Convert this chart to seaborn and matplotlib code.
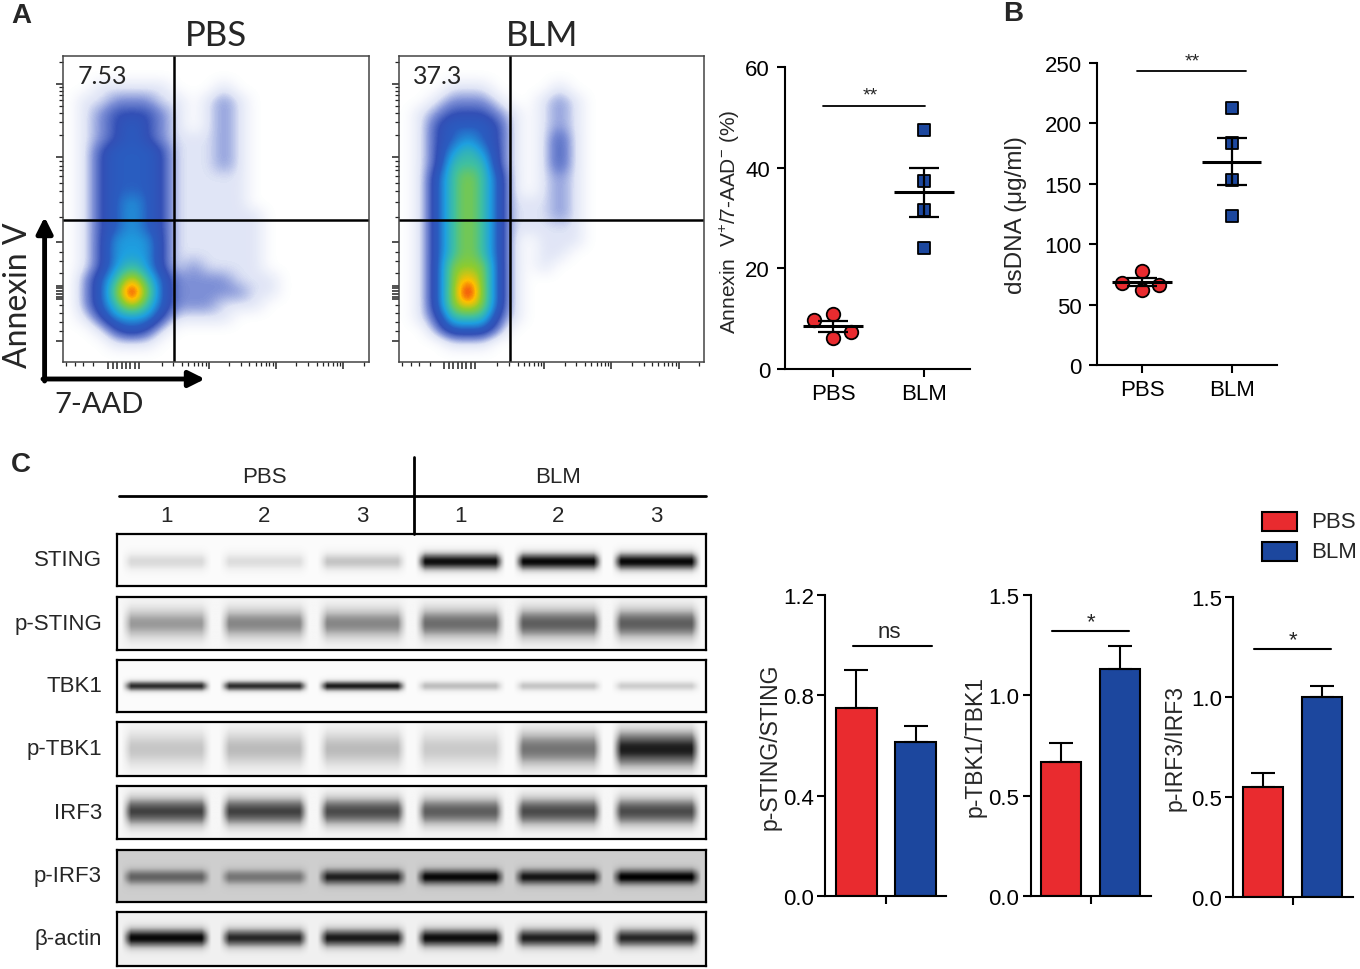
import numpy as np
import pandas as pd
import matplotlib
matplotlib.use("Agg")
import matplotlib.pyplot as plt
import seaborn as sns
from matplotlib.colors import LinearSegmentedColormap
from matplotlib.patches import Rectangle

sns.set_theme(style="ticks")
plt.rcParams['font.family'] = ['Liberation Sans', 'DejaVu Sans']
plt.rcParams['mathtext.default'] = 'regular'

W, H = 1360, 970
RED = "#E92B2F"
BLUE = "#1C479E"
groups = ["PBS", "BLM"]

# ---------------- data ----------------
# A: flow cytometry, coarse density (0 = empty, 9 = peak)
flow_labels = ["7.53", "37.3"]
flow_pbs = [
    "00000000" "000000000000",
    "00000000" "000000000000",
    "00111110" "001000000000",
    "01122211" "012100000000",
    "01233321" "012100000000",
    "01234321" "012100000000",
    "01234321" "112100000000",
    "01344431" "112100000000",
    "01344431" "112100000000",
    "01344431" "111100000000",
    "01344431" "111100000000",
    "01345431" "111100000000",
    "01345431" "111110000000",
    "01345431" "111110000000",
    "01355531" "111110000000",
    "01355531" "111110000000",
    "01356531" "211110000000",
    "02468642" "222111000000",
    "02479742" "222211000000",
    "02468642" "221110000000",
    "01355531" "111000000000",
    "00134310" "000000000000",
    "00011100" "000000000000",
    "00000000" "000000000000",
]
flow_blm = [
    "00000000" "000000000000",
    "00000000" "000000000000",
    "00011100" "001000000000",
    "00122210" "012100000000",
    "01233321" "012100000000",
    "01344431" "012100000000",
    "01345431" "013100000000",
    "01356531" "013100000000",
    "01366631" "013100000000",
    "01467641" "012100000000",
    "01467641" "012100000000",
    "01467641" "112100000000",
    "01467641" "112100000000",
    "01467641" "111100000000",
    "01467641" "011100000000",
    "01467641" "011000000000",
    "01477741" "010000000000",
    "01478741" "000000000000",
    "01479741" "000000000000",
    "01478741" "000000000000",
    "01366631" "000000000000",
    "00244420" "000000000000",
    "00011100" "000000000000",
    "00000000" "000000000000",
]
gate_x, gate_y = 0.364, 0.465

# A: Annexin V+/7-AAD- (%)
annexin_pbs = [9.75, 10.9, 7.4, 6.1]
annexin_blm = [47.5, 37.3, 31.7, 24.0]
annexin_pbs_jitter = [-0.21, 0.0, 0.2, 0.0]

# B: dsDNA (ug/ml)
dsdna_pbs = [77.5, 67.6, 62.4, 66.2]
dsdna_blm = [212.7, 184.0, 153.4, 123.6]
dsdna_pbs_jitter = [0.0, -0.22, 0.0, 0.19]

# C: western blot band intensities (0 = none, 1 = saturated), lanes PBS1-3, BLM1-3
blot_proteins = ["STING", "p-STING", "TBK1", "p-TBK1", "IRF3", "p-IRF3", "β-actin"]
lane_numbers = ["1", "2", "3", "1", "2", "3"]
sting_bands = [0.22, 0.2, 0.32, 0.95, 0.97, 0.97]
p_sting_bands = [0.45, 0.52, 0.52, 0.62, 0.68, 0.68]
tbk1_bands = [0.85, 0.85, 0.9, 0.35, 0.32, 0.28]
p_tbk1_bands = [0.3, 0.35, 0.35, 0.28, 0.6, 0.9]
irf3_bands = [0.78, 0.78, 0.75, 0.68, 0.75, 0.75]
p_irf3_bands = [0.55, 0.45, 0.85, 0.97, 0.9, 1.0]
actin_bands = [0.97, 0.85, 0.9, 0.95, 0.88, 0.85]

# C: quantification
ratio_labels = ["p-STING/STING", "p-TBK1/TBK1", "p-IRF3/IRF3"]
ratio_pbs = [0.749, 0.670, 0.549]
ratio_blm = [0.613, 1.132, 0.998]
ratio_pbs_top = [0.901, 0.762, 0.620]
ratio_blm_top = [0.680, 1.244, 1.056]
ratio_sig = ["ns", "*", "*"]
ratio_sig_y = [0.998, 1.319, 1.239]

# ---------------- figure ----------------
fig = plt.figure(figsize=(W / 100, H / 100), dpi=100)


def add_ax(l, t, r, b):
    return fig.add_axes([l / W, 1 - b / H, (r - l) / W, (b - t) / H])


def style_prism(ax):
    sns.despine(ax=ax)
    for s in ["left", "bottom"]:
        ax.spines[s].set_linewidth(1.5)
        ax.spines[s].set_color("black")
    ax.tick_params(direction="out", length=6, width=1.5, labelsize=16,
                   colors="black", pad=3)


def log_minor(a, b):
    return [a + (b - a) * np.log10(k) for k in range(2, 10)]


flow_cmap = LinearSegmentedColormap.from_list("flow", [
    (0.0, "#ffffff"), (0.11, "#e0e5f6"), (0.22, "#7d8fd6"), (0.33, "#3350b6"),
    (0.44, "#2a5cc0"), (0.56, "#1ea0e0"), (0.67, "#40c0a0"), (0.78, "#8ccc30"),
    (0.86, "#ffc000"), (0.92, "#f04010"), (1.0, "#e00000")])

x_major = list(np.linspace(0.15, 0.25, 8)) + [0.477, 0.697, 0.917]
x_minor = ([0.011, 0.041, 0.068, 0.101] + log_minor(0.257, 0.477) +
           log_minor(0.477, 0.697) + log_minor(0.697, 0.917) +
           [v for v in log_minor(0.917, 1.137) if v < 1])
y_major = list(np.linspace(0.205, 0.25, 6)) + [0.069, 0.391, 0.669, 0.909]
y_minor = ([0.1, 0.13, 0.16, 0.185, 0.29, 0.33, 0.36] + log_minor(0.391, 0.669) +
           log_minor(0.669, 0.909) + [v for v in log_minor(0.909, 1.149) if v < 1])

flow_boxes = [(62.5, 57, 368.8, 363), (398.7, 57, 704, 363)]
for grid, label, box in zip([flow_pbs, flow_blm], flow_labels, flow_boxes):
    ax = add_ax(*box)
    dens = np.array([[int(c) for c in row] for row in grid]) / 9
    ax.imshow(dens, cmap=flow_cmap, vmin=0, vmax=1, extent=[0, 1, 0, 1],
              origin="upper", interpolation="bicubic", aspect="auto")
    ax.axvline(gate_x, color="black", lw=1.8)
    ax.axhline(gate_y, color="black", lw=1.8)
    ax.set_xlim(0, 1)
    ax.set_ylim(0, 1)
    ax.set_xticks(x_major)
    ax.set_xticks(x_minor, minor=True)
    ax.set_yticks(y_major)
    ax.set_yticks(y_minor, minor=True)
    ax.tick_params(which="major", direction="out", length=5, width=1.1,
                   labelbottom=False, labelleft=False, color="#222222")
    ax.tick_params(which="minor", direction="out", length=3, width=0.9, color="#222222")
    for s in ax.spines.values():
        s.set_color("#444444")
        s.set_linewidth(1.1)
    ax.text(0.048, 0.935, label, transform=ax.transAxes, fontsize=18,
            family=["Lato", "DejaVu Sans"], ha="left", va="center")

# A: Annexin scatter
ax = add_ax(785.3, 68.3, 970, 370)
sns.scatterplot(x=np.array(annexin_pbs_jitter), y=annexin_pbs, marker="o", s=95,
                color=RED, edgecolor="black", linewidth=1.3, ax=ax, zorder=3)
sns.scatterplot(x=np.ones(len(annexin_blm)), y=annexin_blm, marker="s", s=80,
                color=BLUE, edgecolor="black", linewidth=1.3, ax=ax, zorder=3)
for i, vals in enumerate([annexin_pbs, annexin_blm]):
    m = np.mean(vals)
    se = np.std(vals, ddof=1) / np.sqrt(len(vals))
    ax.hlines(m, i - 0.33, i + 0.33, color="black", lw=2.2, zorder=4)
    ax.errorbar(i, m, yerr=se, fmt="none", ecolor="black", elinewidth=1.6,
                capsize=10.5, capthick=1.6, zorder=4)
ax.plot([-0.11, 1.015], [52.4, 52.4], color="black", lw=1.3)
ax.text(0.41, 52.9, "**", ha="center", va="bottom", fontsize=14)
ax.set_xlim(-0.524, 1.505)
ax.set_ylim(0, 60)
ax.set_yticks([0, 20, 40, 60])
ax.set_xticks([0, 1])
ax.set_xticklabels(groups)
style_prism(ax)
ax.tick_params(axis="y", pad=5)
ax.tick_params(axis="x", pad=4)
ax.set_ylabel("Annexin  V$^{+}$/7-AAD$^{-}$ (%)", fontsize=15)
ax.yaxis.set_label_coords(-0.232, 0.49)

# B: dsDNA scatter
ax = add_ax(1096.8, 64, 1277, 366)
sns.scatterplot(x=np.array(dsdna_pbs_jitter), y=dsdna_pbs, marker="o", s=95,
                color=RED, edgecolor="black", linewidth=1.3, ax=ax, zorder=3)
sns.scatterplot(x=np.ones(len(dsdna_blm)), y=dsdna_blm, marker="s", s=80,
                color=BLUE, edgecolor="black", linewidth=1.3, ax=ax, zorder=3)
for i, vals in enumerate([dsdna_pbs, dsdna_blm]):
    m = np.mean(vals)
    se = np.std(vals, ddof=1) / np.sqrt(len(vals))
    ax.hlines(m, i - 0.33, i + 0.33, color="black", lw=2.2, zorder=4)
    ax.errorbar(i, m, yerr=se, fmt="none", ecolor="black", elinewidth=1.6,
                capsize=10.5, capthick=1.6, zorder=4)
ax.plot([-0.06, 1.16], [243.4, 243.4], color="black", lw=1.3, clip_on=False)
ax.text(0.56, 244.5, "**", ha="center", va="bottom", fontsize=14, clip_on=False)
ax.set_xlim(-0.504, 1.507)
ax.set_ylim(0, 250)
ax.set_yticks([0, 50, 100, 150, 200, 250])
ax.set_xticks([0, 1])
ax.set_xticklabels(groups)
style_prism(ax)
ax.tick_params(axis="y", pad=5)
ax.tick_params(axis="x", pad=4)
ax.set_ylabel("dsDNA (μg/ml)", fontsize=17.5)
ax.yaxis.set_label_coords(-0.39, 0.5)

# C: western blots
blot_l, blot_r = 117, 705.5
blot_rows_px = [(535, 587), (598, 651), (661, 713), (723, 777),
                (787, 840), (851, 903), (913, 967)]
blot_bands = [sting_bands, p_sting_bands, tbk1_bands, p_tbk1_bands,
              irf3_bands, p_irf3_bands, actin_bands]
# band centre (fraction of strip height), band thickness, membrane background
band_style = [(0.47, 0.12, 0.03), (0.49, 0.2, 0.07), (0.5, 0.07, 0.03),
              (0.5, 0.24, 0.05), (0.52, 0.19, 0.07), (0.48, 0.1, 0.3),
              (0.52, 0.12, 0.12)]
xs = np.linspace(0, 6, 600)
ys = np.linspace(0, 1, 80)
lane_idx = np.clip(np.floor(xs).astype(int), 0, 5)
hprof = np.clip((0.46 - np.abs(xs - (lane_idx + 0.5))) / 0.1, 0, 1)
for bands, (top, bot), (yc, sig, bg) in zip(blot_bands, blot_rows_px, band_style):
    ax = add_ax(blot_l, top, blot_r, bot)
    inten = np.array(bands)[lane_idx] * hprof
    vprof = np.exp(-0.5 * ((ys - yc) / sig) ** 2)
    img = bg + (1 - bg) * np.outer(vprof, inten)
    ax.imshow(img, cmap="Greys", vmin=0, vmax=1, origin="lower",
              extent=[0, 6, 0, 1], aspect="auto", interpolation="bilinear")
    ax.set_xticks([])
    ax.set_yticks([])
    for s in ax.spines.values():
        s.set_color("black")
        s.set_linewidth(1.6)

# C: quantification bars
bar_boxes = [(825, 596, 946, 897.3), (1030.5, 596, 1151, 897.3), (1233, 597.7, 1353, 898.3)]
bar_tick_px = [886, 1090.6, 1292.6]
bar_ylims = [1.2, 1.5, 1.5]
bar_yticks = [[0.0, 0.4, 0.8, 1.2], [0.0, 0.5, 1.0, 1.5], [0.0, 0.5, 1.0, 1.5]]
label_x = [-0.36, -0.362, -0.388]
for k, lab in enumerate(ratio_labels):
    l, t, r, b = bar_boxes[k]
    ax = add_ax(l, t, r, b)
    d = pd.DataFrame({"ratio": [lab, lab], "group": groups,
                      "value": [ratio_pbs[k], ratio_blm[k]]})
    sns.barplot(data=d, x="ratio", y="value", hue="group", hue_order=groups,
                palette={"PBS": RED, "BLM": BLUE}, saturation=1, errorbar=None,
                gap=0.32, edgecolor="black", linewidth=1.5, legend=False, ax=ax)
    ax.errorbar([-0.2, 0.2], [ratio_pbs[k], ratio_blm[k]],
                yerr=[[0, 0], [ratio_pbs_top[k] - ratio_pbs[k], ratio_blm_top[k] - ratio_blm[k]]],
                fmt="none", ecolor="black", elinewidth=1.5, capsize=8.5,
                capthick=1.5, zorder=3)
    ymax = bar_ylims[k]
    px = ymax / (b - t)
    if ratio_sig[k] == "ns":
        ax.plot([-0.226, 0.308], [ratio_sig_y[k]] * 2, color="black", lw=1.5)
        ax.text(0.02, ratio_sig_y[k] + 4 * px, "ns", ha="center", va="bottom", fontsize=16)
    else:
        ax.plot([-0.26, 0.26], [ratio_sig_y[k]] * 2, color="black", lw=1.5)
        ax.text(0.0, ratio_sig_y[k] - 1 * px, "*", ha="center", va="bottom", fontsize=16)
    ax.set_xlim((l - bar_tick_px[k]) / 148, (r - bar_tick_px[k]) / 148)
    ax.set_ylim(0, ymax)
    ax.set_yticks(bar_yticks[k])
    ax.set_yticklabels([f"{v:.1f}" for v in bar_yticks[k]])
    ax.set_xticks([0])
    ax.set_xticklabels([""])
    ax.set_xlabel("")
    style_prism(ax)
    ax.tick_params(axis="y", pad=2)
    ax.set_ylabel(lab, fontsize=16.5)
    ax.yaxis.set_label_coords(label_x[k], 0.5)

# ---------------- overlay: labels, arrows, blot header, legend ----------------
ov = fig.add_axes([0, 0, 1, 1])
ov.set_xlim(0, W)
ov.set_ylim(H, 0)
ov.axis("off")

for txt, (x, y) in zip(["A", "B", "C"], [(21, 16), (1013, 14), (21, 465)]):
    ov.text(x, y, txt, fontsize=20, fontweight="bold", ha="center", va="center")

lato = ["Lato", "DejaVu Sans"]
for g, x in zip(groups, [216, 542]):
    ov.text(x, 36, g, fontsize=25, family=lato, ha="center", va="center")
ov.annotate("", xy=(44.6, 218), xytext=(44.6, 382),
            arrowprops=dict(arrowstyle="-|>", lw=3.5, color="black", mutation_scale=24,
                            shrinkA=0, shrinkB=0))
ov.annotate("", xy=(205, 380), xytext=(43, 380),
            arrowprops=dict(arrowstyle="-|>", lw=3.5, color="black", mutation_scale=24,
                            shrinkA=0, shrinkB=0))
ov.text(18, 295, "Annexin V", fontsize=23, family=lato, rotation=90,
        ha="center", va="center")
ov.text(54, 405, "7-AAD", fontsize=21, family=lato, ha="left", va="center")

lane_w = (blot_r - blot_l) / 6
lane_x = [blot_l + (i + 0.5) * lane_w for i in range(6)]
ov.plot([119, 706], [496.7, 496.7], color="black", lw=2)
ov.plot([414, 414], [458, 535], color="black", lw=2)
ov.text(np.mean(lane_x[:3]), 478, "PBS", fontsize=16, ha="center", va="center")
ov.text(np.mean(lane_x[3:]), 478, "BLM", fontsize=16, ha="center", va="center")
for x, n in zip(lane_x, lane_numbers):
    ov.text(x, 517, n, fontsize=16, ha="center", va="center")
for name, (top, bot) in zip(blot_proteins, blot_rows_px):
    ov.text(102, (top + bot) / 2, name, fontsize=16, ha="right", va="center")

for g, c, y in zip(groups, [RED, BLUE], [513, 543]):
    ov.add_patch(Rectangle((1262, y), 35, 19, facecolor=c, edgecolor="black", lw=1.5))
    ov.text(1311, y + 9.5, g, fontsize=16, ha="left", va="center")

fig.savefig("out.png", dpi=100)
